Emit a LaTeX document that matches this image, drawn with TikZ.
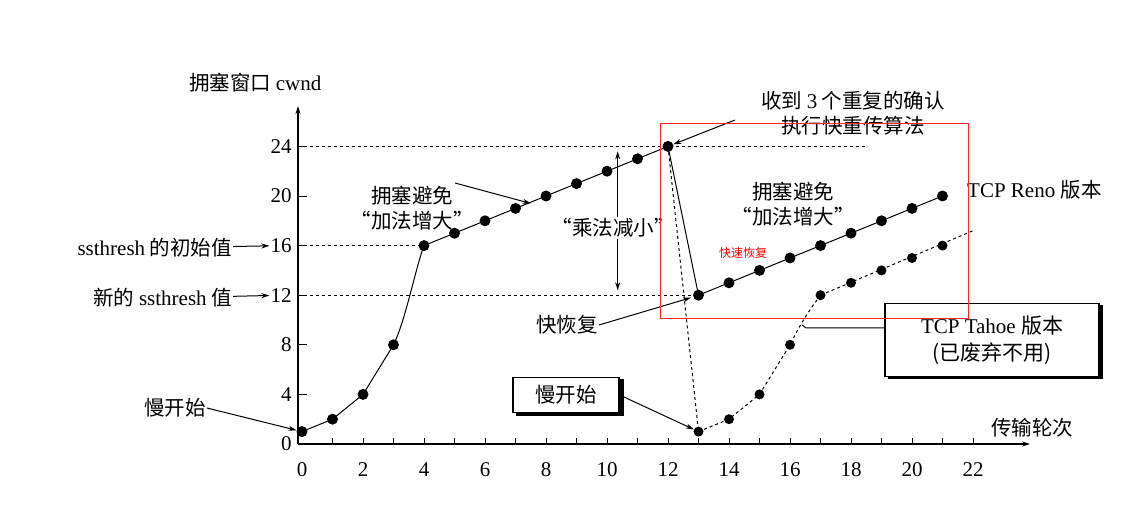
\documentclass[tikz,border=0pt]{standalone}
\usepackage{fontspec}
\setmainfont{Liberation Serif}
\newfontfamily\cjk{Noto Sans CJK SC}
\usetikzlibrary{arrows.meta}
\begin{document}
\begin{tikzpicture}[x=1pt,y=1pt,
  dot/.style={circle,fill=black,inner sep=0pt,minimum size=11pt},
  lbl/.style={font=\fontsize{20.5}{25}\selectfont\cjk,inner sep=1pt},
  lat/.style={font=\fontsize{21}{25}\selectfont,inner sep=1pt},
  tick/.style={font=\fontsize{21}{24}\selectfont,inner sep=1pt},
  arr/.style={-{Stealth[length=8pt,width=5pt]},line width=1pt},
  dsh/.style={dash pattern=on 3pt off 3pt,line width=0.8pt},
  sbox/.style={draw,line width=1.2pt,fill=white,inner sep=5pt}]
\useasboundingbox (0,0) rectangle (1145,506);
\fill[white] (0,0) rectangle (1145,506);
% axes
\coordinate (O) at (298,62);
\coordinate (ytop) at (298,400);
\coordinate (xend) at (1030,62);
\draw[arr,line width=1.2pt] (O) -- (ytop);
\draw[arr,line width=1.2pt] (O) -- (xend);
\begin{scope}[shift={(302,62)},x=30.5pt,y=12.4pt]
\foreach \i in {1,...,22} \draw[line width=0.9pt] (\i,0) -- (\i,0.5);
\foreach \i in {0,2,...,22} \node[tick] at (\i,-2.1) {\i};
\foreach \v in {4,8,...,24} \draw[line width=0.9pt] (-0.13,\v) -- (0.15,\v);
\foreach \v in {0,4,8,12,16,20,24} \node[tick,anchor=east] (t\v) at (-0.3,\v) {\v};
% dashed guides
\draw[dsh] (-0.13,24) -- (18.5,24);
\draw[dsh] (-0.13,16) -- (4,16);
\draw[dsh] (-0.13,12) -- (13,12);
% Reno
\draw[line width=1pt] (0,1) -- (1,2) -- (2,4) -- (3,8) .. controls (3.4,10) and (3.7,14) .. (4,16);
\draw[line width=1pt] (4,16) -- (12,24) -- (13,12) -- (21,20);
\foreach \x/\y in {0/1,1/2,2/4,3/8,4/16,5/17,6/18,7/19,8/20,9/21,10/22,11/23,12/24,13/12,14/13,15/14,16/15,17/16,18/17,19/18,20/19,21/20}
  \node[dot] (r\x) at (\x,\y) {};
% Tahoe
\draw[dsh,line width=1pt] (12,24) -- (13,1);
\draw[dsh,line width=1pt] (13,1) -- (14,2) -- (15,4) -- (16,8) .. controls (16.4,10) and (16.7,11) .. (17,12);
\draw[dsh,line width=1pt] (17,12) -- (22,17.2);
\foreach \x/\y in {13/1,14/2,15/4,16/8,17/12,18/13,19/14,20/15,21/16}
  \node[dot,minimum size=10pt] (h\x) at (\x,\y) {};
\coordinate (ca) at (7.5,19.4);
\coordinate (tah) at (16.4,9.6);
\coordinate (mt) at (10.35,23.6);
\coordinate (mb) at (10.35,12.4);
\coordinate (fr) at (12.75,11.8);
\end{scope}
% y-axis labels
\node[lbl,anchor=west] (ylab) at (188,423) {拥塞窗口 {\rmfamily\fontsize{21}{24}\selectfont cwnd}};
\node[lbl,anchor=west] (xlab) at (990,78) {传输轮次};
\node[lbl,anchor=east] (ss0) at (233,258) {{\rmfamily\fontsize{21}{24}\selectfont ssthresh} 的初始值};
\draw[arr] (ss0) -- (t16);
\node[lbl,anchor=east] (ss1) at (233,208) {新的 {\rmfamily\fontsize{21}{24}\selectfont ssthresh} 值};
\draw[arr] (ss1) -- (t12);
\node[lbl] (ms0) at (175,98) {慢开始};
\draw[arr] (ms0.east) -- (r0);
% annotations
\node[lbl,align=center] (ca1) at (412,298) {拥塞避免\\“加法增大”};
\draw[arr] (455,323) -- (ca);
\node[lbl] (mul) at (613,278) {“乘法减小”};
\draw[arr] (mul.north -| mt) -- (mt);
\draw[arr] (mul.south -| mb) -- (mb);
\node[lbl] (fast) at (567,181) {快恢复};
\draw[arr] (fast.east) -- (fr);
\node[lbl,align=center] (dup) at (853,393) {收到 {\rmfamily\fontsize{21}{24}\selectfont 3} 个重复的确认\\执行快重传算法};
\draw[arr] (735,386) -- (r12);
\node[lbl,align=center] (ca2) at (793,302) {拥塞避免\\“加法增大”};
\node[lat,anchor=west] (reno) at (966,316) {TCP Reno {\cjk\fontsize{20.5}{24}\selectfont 版本}};
% boxes
\fill (516,90) rectangle (624,127);
\node[sbox,lbl,minimum width=106pt,minimum height=35pt] (msb) at (566,111) {慢开始};
\draw[arr] (msb.east) -- (h13);
\fill (888,127) rectangle (1103,201);
\node[sbox,align=center,minimum width=214pt,minimum height=73pt,font=\fontsize{21}{27}\selectfont] (tbox) at (992,166) {TCP Tahoe {\cjk 版本}\\{\cjk (已废弃不用)}};
\draw[line width=1pt] (tbox.west |- 0,178) -- (806,178) -- (tah);
% red overlay
\draw[red!85,line width=0.6pt] (660,188) rectangle (968,383);
\node[font=\fontsize{12}{14}\selectfont\cjk,text=red] (red) at (743,253) {快速恢复};
\end{tikzpicture}
\end{document}
